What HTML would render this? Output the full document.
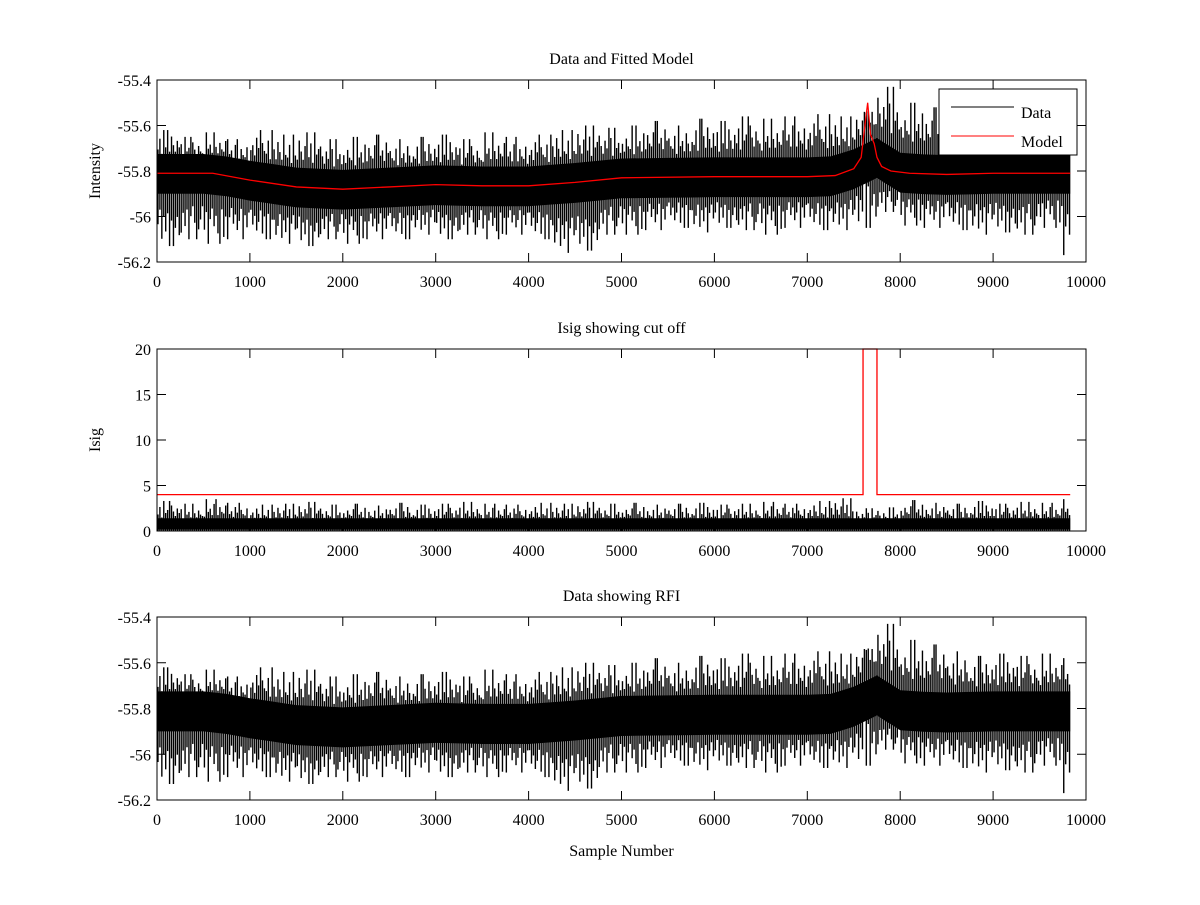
<!DOCTYPE html>
<html><head><meta charset="utf-8"><style>
body{margin:0;background:#fff}
svg text{font-family:"Liberation Serif",serif;font-size:16px;fill:#000}
</style></head><body>
<svg id="c" width="1200" height="900"></svg>
<script>
const binX=[];for(let i=0;i<40;i++)binX.push(i*250);
const dataHi=[-55.62,-55.65,-55.63,-55.66,-55.62,-55.64,-55.63,-55.66,-55.65,-55.64,-55.66,-55.65,-55.64,-55.66,-55.63,-55.65,-55.64,-55.62,-55.6,-55.61,-55.6,-55.58,-55.6,-55.57,-55.58,-55.56,-55.57,-55.56,-55.55,-55.56,-55.54,-55.43,-55.5,-55.52,-55.55,-55.57,-55.56,-55.57,-55.56,-55.58];
const dataLo=[-56.13,-56.1,-56.12,-56.1,-56.1,-56.12,-56.13,-56.1,-56.12,-56.1,-56.1,-56.08,-56.1,-56.08,-56.1,-56.08,-56.1,-56.16,-56.15,-56.08,-56.08,-56.06,-56.05,-56.07,-56.05,-56.06,-56.08,-56.05,-56.06,-56.06,-56.05,-55.98,-56.04,-56.05,-56.06,-56.08,-56.07,-56.08,-56.05,-56.17];
const modelX=[0,600,1000,1500,2000,2500,3000,3500,4000,4500,5000,6000,7000,7300,7500,7580,7620,7650,7680,7700,7720,7750,7800,7900,8100,8500,9000,9830];
const modelY=[-55.81,-55.81,-55.84,-55.87,-55.88,-55.87,-55.86,-55.865,-55.865,-55.85,-55.83,-55.825,-55.825,-55.82,-55.79,-55.74,-55.6,-55.5,-55.64,-55.66,-55.68,-55.74,-55.78,-55.8,-55.81,-55.815,-55.81,-55.81];
const isigHi=[3.3,3.0,3.5,3.1,2.9,3.0,3.2,2.9,3.0,2.8,3.1,2.9,3.0,3.2,3.0,2.9,3.1,3.0,3.2,3.0,3.1,2.9,3.0,3.1,2.9,3.0,3.2,3.0,3.3,3.6,2.5,2.6,3.4,3.1,3.0,3.3,3.0,3.2,3.1,3.5];
const cutX=[0,7600,7600,7750,7750,9830];
const cutY=[4,4,20,20,4,4];
const xTicks=[0,1000,2000,3000,4000,5000,6000,7000,8000,9000,10000];
const yTicks1=[-55.4,-55.6,-55.8,-56,-56.2];
const yTicks2=[0,5,10,15,20];
const lastX=9830;
// drawing pattern (fraction of envelope) — style only
const patF=[0.55,0.8,0.45,1.0,0.6,0.7,0.5,0.85,0.65,0.5,0.75,0.6];
const patG=[0.7,0.5,0.9,0.6,0.8,0.55,1.0,0.65,0.5,0.75,0.6,0.85];

const svg=document.getElementById('c');const NS='http://www.w3.org/2000/svg';
function el(t,a,p){const e=document.createElementNS(NS,t);for(const k in a)e.setAttribute(k,a[k]);(p||svg).appendChild(e);return e;}
const L=157,R=1086;
const sx=v=>L+v/10000*(R-L);
function modelAt(x){for(let i=1;i<modelX.length;i++)if(x<=modelX[i]){const t=(x-modelX[i-1])/(modelX[i]-modelX[i-1]);return modelY[i-1]+t*(modelY[i]-modelY[i-1]);}return modelY[modelY.length-1];}
function axes(top,bot,ymin,ymax,yt,title,ylab,name){
 const g=el('g',{});
 const sy=v=>bot-(v-ymin)/(ymax-ymin)*(bot-top);
 return {g,sy,top,bot,yt,title,ylab};
}
function frame(a,xlab){
 const {g,sy,top,bot}=a;
 el('rect',{x:L,y:top,width:R-L,height:bot-top,fill:'none',stroke:'#000','stroke-width':1},g);
 xTicks.forEach(v=>{const x=sx(v);el('line',{x1:x,x2:x,y1:bot,y2:bot-9,stroke:'#000'},g);el('line',{x1:x,x2:x,y1:top,y2:top+9,stroke:'#000'},g);
  const t=el('text',{x:x,y:bot+25,'text-anchor':'middle'},g);t.textContent=v;});
 a.yt.forEach(v=>{const y=sy(v);el('line',{x1:L,x2:L+9,y1:y,y2:y,stroke:'#000'},g);el('line',{x1:R,x2:R-9,y1:y,y2:y,stroke:'#000'},g);
  const t=el('text',{x:L-6,y:y+6,'text-anchor':'end'},g);t.textContent=v;});
 const tt=el('text',{x:(L+R)/2,y:top-16,'text-anchor':'middle'},g);tt.textContent=a.title;
 if(a.ylab){const yl=el('text',{x:0,y:0,'text-anchor':'middle',transform:`translate(100,${(top+bot)/2}) rotate(-90)`},g);yl.textContent=a.ylab;}
 if(xlab){const xl=el('text',{x:(L+R)/2,y:bot+56,'text-anchor':'middle'},g);xl.textContent=xlab;}
}
function noise(a){
 const {g,sy}=a;
 let up='',dn='';
 binX.forEach((x,i)=>{const x2=Math.min(x+250,lastX);const m1=modelAt(x),m2=modelAt(x2);
  up+=`${sx(x)},${sy(m1+0.085)} ${sx(x2)},${sy(m2+0.085)} `;dn=`${sx(x2)},${sy(m2-0.09)} ${sx(x)},${sy(m1-0.09)} `+dn;});
 const b=el('polygon',{points:up+dn,fill:'#000'},g);
 binX.forEach((x,i)=>{
  const n=12;
  for(let k=0;k<n;k++){
   const xv=x+(k+0.5)*250/n; if(xv>lastX)continue;
   const m=modelAt(xv);
   const f=(k===5)?1:patF[(k+i)%12], gg=(k===8)?1:patG[(k+2*i)%12];
   const hi=m+(dataHi[i]-m)*f, lo=m+(dataLo[i]-m)*gg;
   const ln=el('line',{x1:sx(xv),x2:sx(xv),y1:sy(hi),y2:sy(lo),stroke:'#000','stroke-width':1.4},g);
   
  }});
}
// Panel 1
const a1=axes(80,262,-56.2,-55.4,yTicks1,'Data and Fitted Model','Intensity','panel-data-model');
noise(a1);
const mp=el('polyline',{points:modelX.map((x,i)=>sx(x)+','+a1.sy(modelY[i])).join(' '),fill:'none',stroke:'#f00','stroke-width':1.3},a1.g);

frame(a1);
const lg=el('g',{},a1.g);
el('rect',{x:939,y:89,width:138,height:66,fill:'#fff',stroke:'#000'},lg);
el('line',{x1:951,x2:1014,y1:107,y2:107,stroke:'#000'},lg);
el('line',{x1:951,x2:1014,y1:136,y2:136,stroke:'#f00'},lg);
let t=el('text',{x:1021,y:118},lg);t.textContent='Data';
t=el('text',{x:1021,y:147},lg);t.textContent='Model';
// Panel 2
const a2=axes(349,531,0,20,yTicks2,'Isig showing cut off','Isig','panel-isig');
const ib=el('polygon',{points:`${sx(0)},${a2.sy(1.4)} ${sx(lastX)},${a2.sy(1.4)} ${sx(lastX)},${a2.sy(0.15)} ${sx(0)},${a2.sy(0.15)}`,fill:'#000'},a2.g);
binX.forEach((x,i)=>{for(let k=0;k<12;k++){const xv=x+(k+0.5)*250/12;if(xv>lastX)continue;const h=(k===6?1:patF[(k+i)%12])*isigHi[i];
 const ln=el('line',{x1:sx(xv),x2:sx(xv),y1:a2.sy(h),y2:a2.sy(0),stroke:'#000','stroke-width':1.4},a2.g);
 }});
const cp=el('polyline',{points:cutX.map((x,i)=>sx(x)+','+a2.sy(cutY[i])).join(' '),fill:'none',stroke:'#f00','stroke-width':1.3},a2.g);

frame(a2);
// Panel 3
const a3=axes(617,800,-56.2,-55.4,yTicks1,'Data showing RFI','','panel-rfi');
noise(a3);frame(a3,'Sample Number');
</script>
</body></html>
